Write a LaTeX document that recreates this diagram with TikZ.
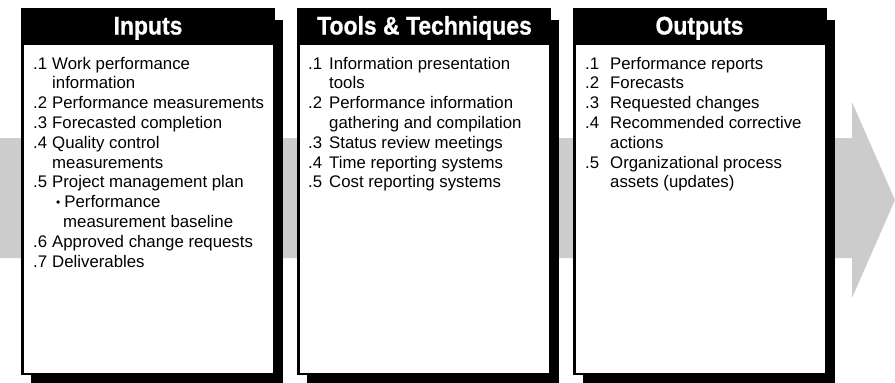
\documentclass[tikz,border=0pt]{standalone}
\usepackage{fontspec}
\setmainfont{Liberation Sans}
\newfontfamily\headfont{Liberation Sans Bold}[FakeStretch=0.9,FakeBold=0.8]
\definecolor{arrowgray}{RGB}{204,204,204}
\tikzset{
  itemtext/.style={anchor=base west, inner sep=0pt, font=\fontsize{16.8}{20}\selectfont},
  headtext/.style={anchor=base, inner sep=0pt, text=white, font=\headfont\fontsize{25.5}{30}\selectfont},
  shadowbox/.style={fill=black},
  framebox/.style={fill=black},
  bodybox/.style={fill=white}
}
\newcommand{\smallbul}{\raisebox{1pt}{\fontsize{12}{12}\selectfont\textbullet}}
\begin{document}
\begin{tikzpicture}[x=1pt,y=-1pt]
\useasboundingbox (0,0) rectangle (895,383);
% big gray arrow
\fill[arrowgray] (0,138) -- (852,138) -- (852,102) -- (895,200) -- (852,298) -- (852,258) -- (0,258) -- cycle;
% three boxes
\foreach \x in {21,297,573}{
  \fill[shadowbox] (\x+10,20) rectangle (\x+262,384);
  \fill[framebox] (\x,8) rectangle (\x+254,375);
  \fill[bodybox] (\x+2.5,45) rectangle (\x+251.5,373);
}
% headers
\node[headtext] (hin) at (148,34.5) {Inputs};
\node[headtext] (htt) at (424.5,34.5) {Tools \& Techniques};
\node[headtext] (hout) at (699.5,34.5) {Outputs};
% inputs
\foreach \n/\t [count=\i from 0] in {
  .1/{Work performance},
  /{information},
  .2/{Performance measurements},
  .3/{Forecasted completion},
  .4/{Quality control},
  /{measurements},
  .5/{Project management plan},
  /{\hspace*{4pt}\smallbul\hspace{4pt}Performance},
  /{\hspace*{11pt}measurement baseline},
  .6/{Approved change requests},
  .7/{Deliverables}}{
  \node[itemtext] (in\i) at (33,69+19.8*\i) {\makebox[19pt][l]{\n}\t};
}
% tools & techniques
\foreach \n/\t [count=\i from 0] in {
  .1/{Information presentation},
  /{tools},
  .2/{Performance information},
  /{gathering and compilation},
  .3/{Status review meetings},
  .4/{Time reporting systems},
  .5/{Cost reporting systems}}{
  \node[itemtext] (tt\i) at (308,69+19.8*\i) {\makebox[21pt][l]{\n}\t};
}
% outputs
\foreach \n/\t [count=\i from 0] in {
  .1/{Performance reports},
  .2/{Forecasts},
  .3/{Requested changes},
  .4/{Recommended corrective},
  /{actions},
  .5/{Organizational process},
  /{assets (updates)}}{
  \node[itemtext] (out\i) at (585,69+19.8*\i) {\makebox[25pt][l]{\n}\t};
}
\end{tikzpicture}
\end{document}
